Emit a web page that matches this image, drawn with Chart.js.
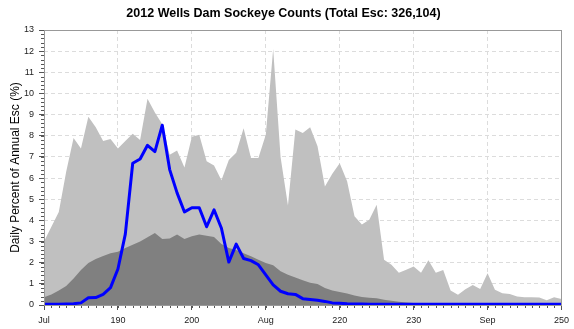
<!DOCTYPE html>
<html>
<head>
<meta charset="utf-8">
<script src="https://cdn.jsdelivr.net/npm/chart.js@4.4.0/dist/chart.umd.min.js"></script>
<style>
html,body{margin:0;padding:0;background:#fff;}
</style>
</head>
<body>
<canvas id="myChart" width="574" height="329"></canvas>
<script>
// day of year
var days = [180,181,182,183,184,185,186,187,188,189,
            190,191,192,193,194,195,196,197,198,199,
            200,201,202,203,204,205,206,207,208,209,
            210,211,212,213,214,215,216,217,218,219,
            220,221,222,223,224,225,226,227,228,229,
            230,231,232,233,234,235,236,237,238,239,
            240,241,242,243,244,245,246,247,248,249,250];

// light gray (max of prior years)
var maxPct = [3.0,3.7,4.4,6.3,7.9,7.4,8.9,8.4,7.75,7.85,
              7.4,7.75,8.1,7.8,9.75,9.1,8.55,7.1,7.3,6.5,
              7.95,8.05,6.8,6.6,5.9,6.85,7.2,8.35,6.95,6.95,
              8.05,12.1,7.0,4.7,8.3,8.13,8.4,7.5,5.6,6.2,
              6.7,5.85,4.2,3.8,4.03,4.74,2.14,1.9,1.52,1.67,
              1.82,1.52,2.12,1.53,1.66,0.68,0.48,0.75,0.94,0.76,
              1.5,0.72,0.56,0.52,0.4,0.37,0.37,0.36,0.22,0.37,0.28];

// dark gray (average)
var avgPct = [0.37,0.5,0.68,0.9,1.25,1.65,1.98,2.18,2.32,2.45,
              2.52,2.7,2.85,3.0,3.2,3.4,3.12,3.14,3.33,3.12,
              3.25,3.33,3.27,3.22,2.88,2.7,2.6,2.45,2.3,2.14,
              1.99,1.88,1.6,1.43,1.3,1.17,1.05,0.99,0.8,0.69,
              0.61,0.54,0.45,0.38,0.34,0.32,0.25,0.2,0.15,0.12,
              0.09,0.07,0.06,0.05,0.05,0.04,0.04,0.04,0.03,0.03,
              0.03,0.03,0.03,0.02,0.02,0.02,0.02,0.02,0.02,0.02,0.02];

// 2012
var pct2012 = [0.04,0.04,0.04,0.05,0.06,0.1,0.34,0.35,0.5,0.82,
               1.7,3.35,6.7,6.9,7.55,7.25,8.5,6.4,5.3,4.4,
               4.6,4.6,3.7,4.5,3.63,2.03,2.88,2.2,2.1,1.9,
               1.42,0.95,0.65,0.53,0.5,0.3,0.26,0.22,0.17,0.1,
               0.08,0.06,0.05,0.05,0.04,0.04,0.04,0.04,0.04,0.04,
               0.03,0.03,0.03,0.03,0.03,0.03,0.03,0.03,0.03,0.03,
               0.03,0.03,0.03,0.03,0.03,0.03,0.03,0.03,0.03,0.03,0.03];

var monthTicks = {180:'Jul', 210:'Aug', 240:'Sep'};

function pts(vals){
  var out = [];
  for(var i in days){
    out.push({x: days[i], y: vals[i]});
  }
  return out;
}

var frame = {
  id: 'frame',
  afterDraw: function(chart){
    var ctx = chart.ctx, a = chart.chartArea;
    var xs = chart.scales.x, ys = chart.scales.y;
    ctx.save();
    ctx.strokeStyle = '#555';
    ctx.lineWidth = 1;
    ctx.beginPath();
    // minor ticks on x, each day
    for(var d = xs.min; d <= xs.max; d++){
      var px = Math.round(xs.getPixelForValue(d)) + 0.5;
      ctx.moveTo(px, a.bottom);
      ctx.lineTo(px, a.bottom + 3);
    }
    // minor ticks on y
    for(var v = 0; v <= 13.001; v += 0.2){
      var py = Math.round(ys.getPixelForValue(v)) + 0.5;
      ctx.moveTo(a.left - 3, py);
      ctx.lineTo(a.left, py);
    }
    ctx.stroke();
    ctx.strokeStyle = '#999';
    ctx.strokeRect(Math.round(a.left) + 0.5, Math.round(a.top) + 0.5,
                   Math.round(a.right - a.left), Math.round(a.bottom - a.top));
    ctx.restore();
  }
};

var ctx = document.getElementById('myChart');
var chart = new Chart(ctx, {
  type: 'line',
  data: {
    datasets: [{
      label: '2012',
      data: pts(pct2012),
      borderColor: '#0000ff',
      borderWidth: 3,
      borderJoinStyle: 'round',
      pointRadius: 0,
      fill: false,
      order: 0
    },{
      label: 'Average',
      data: pts(avgPct),
      borderColor: '#808080',
      backgroundColor: '#808080',
      borderWidth: 0,
      pointRadius: 0,
      fill: 'origin',
      order: 1
    },{
      label: 'Max',
      data: pts(maxPct),
      borderColor: '#c0c0c0',
      backgroundColor: '#c0c0c0',
      borderWidth: 0,
      pointRadius: 0,
      fill: 'origin',
      order: 2
    }]
  },
  options: {
    responsive: false,
    animation: false,
    devicePixelRatio: 1,
    layout: { padding: { left: 0, right: 7, top: 0, bottom: 0 } },
    plugins: {
      legend: { display: false },
      tooltip: { enabled: false },
      title: {
        display: true,
        text: '2012 Wells Dam Sockeye Counts (Total Esc: 326,104)',
        color: '#000',
        font: { family: 'Liberation Sans, Arial, sans-serif', size: 12.5, weight: 'bold' },
        padding: { top: 6, bottom: 9 }
      }
    },
    scales: {
      x: {
        type: 'linear',
        min: 180,
        max: 250,
        afterFit: function(s){ s.height = 24; },
        ticks: {
          stepSize: 10,
          autoSkip: false,
          maxRotation: 0,
          padding: 5,
          color: '#222',
          font: { family: 'Liberation Sans, Arial, sans-serif', size: 9 },
          callback: function(v){ return monthTicks[v] || v; }
        },
        grid: { color: '#dcdcdc', tickLength: 5, tickColor: '#555' },
        border: { display: false, dash: [4, 3] }
      },
      y: {
        min: 0,
        max: 13,
        afterFit: function(s){ s.width = 44; },
        ticks: {
          stepSize: 1,
          padding: 5,
          color: '#222',
          font: { family: 'Liberation Sans, Arial, sans-serif', size: 9 }
        },
        grid: { color: '#dcdcdc', tickLength: 5, tickColor: '#555' },
        border: { display: false, dash: [4, 3] },
        title: {
          display: true,
          text: 'Daily Percent of Annual Esc (%)',
          color: '#000',
          font: { family: 'Liberation Sans, Arial, sans-serif', size: 12 },
          padding: { top: 8, bottom: 0 }
        }
      }
    }
  },
  plugins: [frame]
});
</script>
</body>
</html>
